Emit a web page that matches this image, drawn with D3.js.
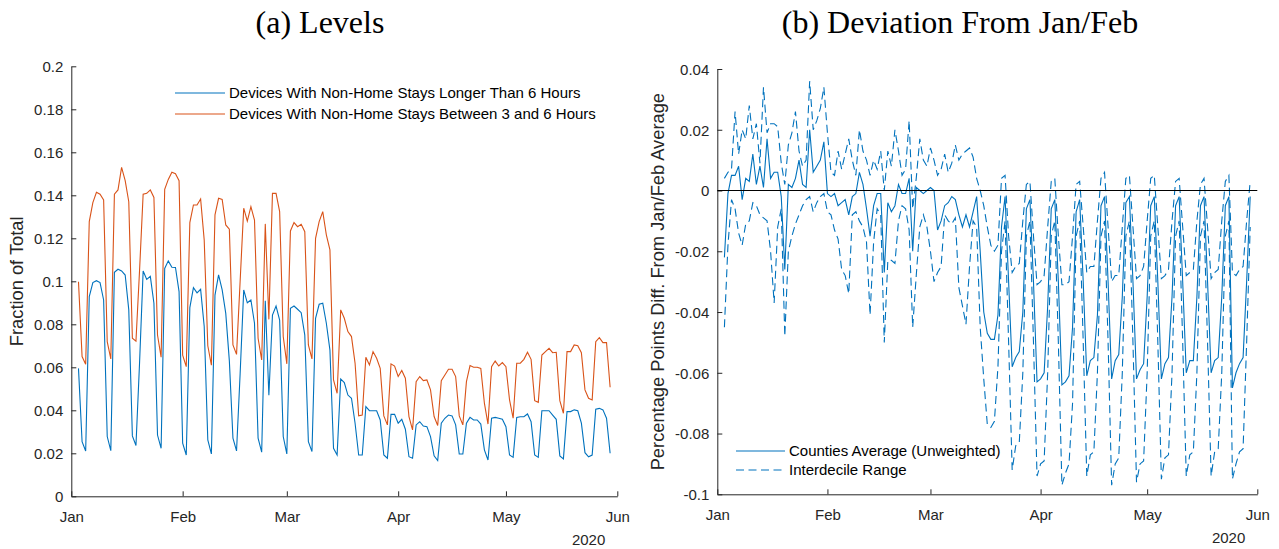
<!DOCTYPE html>
<html>
<head>
<meta charset="utf-8">
<script src="https://cdn.jsdelivr.net/npm/d3@7"></script>
<style>
  html, body { margin: 0; padding: 0; background: #fff; }
  svg { display: block; }
  .tick text { font-family: "Liberation Sans", Arial, Helvetica, sans-serif; font-size: 15px; fill: #262626; }
</style>
</head>
<body>
<svg id="chart" width="1279" height="549"></svg>
<script>
// ---------------- DATA ----------------
const firstDay = "2020-01-03";           // first observation (daily series)
const monthTicks = ["2020-01-01", "2020-02-01", "2020-03-01", "2020-04-01", "2020-05-01", "2020-06-01"];
const levelTicks = [0, 0.02, 0.04, 0.06, 0.08, 0.1, 0.12, 0.14, 0.16, 0.18, 0.2];
const devTicks = [-0.1, -0.08, -0.06, -0.04, -0.02, 0, 0.02, 0.04];
const seriesNamesA = ["Devices With Non-Home Stays Longer Than 6 Hours", "Devices With Non-Home Stays Between 3 and 6 Hours"];
const seriesNamesB = ["Counties Average (Unweighted)", "Interdecile Range"];

// (a) Levels – fraction of total devices
const longStays = [
  0.0595, 0.0254, 0.0211, 0.0929, 0.0994, 0.1003, 0.0994, 0.0913, 0.0278, 0.0212,
  0.1042, 0.1056, 0.1048, 0.1029, 0.0867, 0.0281, 0.0236, 0.0620, 0.1048, 0.1009,
  0.1023, 0.0898, 0.0285, 0.0223, 0.1060, 0.1095, 0.1065, 0.1064, 0.0952, 0.0247,
  0.0192, 0.0878, 0.0970, 0.0946, 0.0963, 0.0790, 0.0262, 0.0197, 0.0936, 0.1030,
  0.0960, 0.0851, 0.0630, 0.0270, 0.0211, 0.0570, 0.0960, 0.0900, 0.0913, 0.0805,
  0.0270, 0.0205, 0.0909, 0.0470, 0.0843, 0.0885, 0.0820, 0.0278, 0.0197, 0.0874,
  0.0885, 0.0870, 0.0854, 0.0750, 0.0254, 0.0208, 0.0828, 0.0893, 0.0898, 0.0805,
  0.0680, 0.0223, 0.0192, 0.0546, 0.0529, 0.0471, 0.0456, 0.0340, 0.0192, 0.0192,
  0.0417, 0.0398, 0.0398, 0.0398, 0.0355, 0.0192, 0.0177, 0.0381, 0.0381, 0.0340,
  0.0358, 0.0312, 0.0184, 0.0177, 0.0332, 0.0347, 0.0327, 0.0324, 0.0278, 0.0188,
  0.0166, 0.0340, 0.0363, 0.0378, 0.0374, 0.0332, 0.0197, 0.0197, 0.0340, 0.0367,
  0.0355, 0.0355, 0.0336, 0.0216, 0.0169, 0.0363, 0.0367, 0.0363, 0.0358, 0.0324,
  0.0192, 0.0181, 0.0367, 0.0370, 0.0370, 0.0383, 0.0347, 0.0192, 0.0181, 0.0398,
  0.0398, 0.0398, 0.0378, 0.0358, 0.0188, 0.0174, 0.0394, 0.0394, 0.0402, 0.0398,
  0.0340, 0.0203, 0.0184, 0.0192, 0.0405, 0.0409, 0.0402, 0.0363, 0.0200
];
const midStays = [
  0.0998, 0.0650, 0.0614, 0.1278, 0.1366, 0.1414, 0.1405, 0.1378, 0.0719, 0.0639,
  0.1405, 0.1425, 0.1530, 0.1468, 0.1370, 0.0735, 0.0722, 0.1050, 0.1405, 0.1409,
  0.1425, 0.1390, 0.0750, 0.0647, 0.1428, 0.1474, 0.1507, 0.1500, 0.1468, 0.0657,
  0.0603, 0.1273, 0.1355, 0.1355, 0.1383, 0.1192, 0.0700, 0.0610, 0.1309, 0.1386,
  0.1381, 0.1262, 0.1242, 0.0704, 0.0660, 0.1000, 0.1340, 0.1280, 0.1347, 0.1285,
  0.0735, 0.0634, 0.1267, 0.0823, 0.1409, 0.1409, 0.1324, 0.0743, 0.0616, 0.1234,
  0.1273, 0.1254, 0.1265, 0.1231, 0.0704, 0.0639, 0.1200, 0.1278, 0.1324, 0.1216,
  0.1146, 0.0541, 0.0479, 0.0867, 0.0828, 0.0766, 0.0743, 0.0619, 0.0374, 0.0378,
  0.0647, 0.0611, 0.0673, 0.0642, 0.0595, 0.0374, 0.0332, 0.0616, 0.0606, 0.0557,
  0.0585, 0.0549, 0.0371, 0.0309, 0.0533, 0.0557, 0.0538, 0.0541, 0.0495, 0.0371,
  0.0329, 0.0538, 0.0564, 0.0591, 0.0591, 0.0557, 0.0374, 0.0332, 0.0533, 0.0608,
  0.0600, 0.0600, 0.0595, 0.0433, 0.0336, 0.0603, 0.0629, 0.0606, 0.0622, 0.0603,
  0.0448, 0.0363, 0.0619, 0.0619, 0.0637, 0.0670, 0.0637, 0.0445, 0.0437, 0.0657,
  0.0673, 0.0688, 0.0668, 0.0670, 0.0445, 0.0386, 0.0673, 0.0673, 0.0704, 0.0700,
  0.0668, 0.0495, 0.0456, 0.0448, 0.0719, 0.0738, 0.0715, 0.0715, 0.0507
];

// (b) Deviation from Jan/Feb average
const devMean = [
  -0.022, -0.001, 0.005, 0.005, 0.008, -0.003, 0.004, 0.003, 0.012, 0.002,
  0.008, 0.001, 0.017, 0.004, 0.006, 0.006, -0.002, -0.026, 0.002, 0.001,
  0.004, 0.010, 0.002, 0.001, 0.020, 0.006, 0.008, 0.010, 0.016, -0.001,
  -0.002, -0.001, -0.005, -0.004, -0.003, -0.008, -0.002, -0.001, 0.006, 0.002,
  -0.006, -0.015, -0.005, -0.001, -0.001, -0.027, -0.004, -0.007, -0.005, 0.002,
  -0.001, -0.001, 0.004, -0.020, 0.001, 0.000, -0.001, 0.000, 0.001, 0.000,
  -0.013, -0.010, -0.005, -0.004, -0.002, -0.003, -0.008, -0.012, -0.008, -0.012,
  -0.007, -0.002, -0.020,
  -0.040, -0.047, -0.049, -0.049, -0.041, -0.012, -0.002,
  -0.030, -0.058, -0.055, -0.053, -0.040, -0.006, -0.003,
  -0.030, -0.063, -0.062, -0.060, -0.038, -0.006, -0.003,
  -0.030, -0.064, -0.063, -0.061, -0.045, -0.007, -0.003,
  -0.030, -0.061, -0.056, -0.055, -0.041, -0.005, -0.002,
  -0.030, -0.062, -0.056, -0.054, -0.035, -0.004, -0.002,
  -0.030, -0.062, -0.059, -0.057, -0.035, -0.005, -0.002,
  -0.030, -0.062, -0.057, -0.055, -0.035, -0.005, -0.002,
  -0.030, -0.060, -0.056, -0.056, -0.035, -0.005, -0.002,
  -0.030, -0.060, -0.056, -0.055, -0.035, -0.005, -0.002,
  -0.065, -0.060, -0.057, -0.055, -0.030, -0.002
];
const devP90 = [
  0.004, 0.006, 0.007, 0.026, 0.012, 0.020, 0.017, 0.028, 0.017, 0.022,
  0.009, 0.034, 0.019, 0.022, 0.022, 0.021, 0.009, 0.002, 0.015, 0.019,
  0.026, 0.013, 0.008, 0.010, 0.036, 0.020, 0.023, 0.027, 0.034, 0.019,
  0.006, 0.005, 0.013, 0.007, 0.012, 0.017, 0.010, 0.005, 0.020, 0.013,
  0.010, 0.005, 0.010, 0.007, 0.013, 0.000, 0.013, 0.008, 0.020, 0.013,
  0.005, 0.007, 0.023, -0.006, 0.004, 0.017, 0.010, 0.008, 0.014, 0.010,
  0.005, 0.007, 0.012, 0.006, 0.009, 0.015, 0.010, 0.012, 0.013, 0.014,
  0.011, 0.004, 0.000,
  -0.005, -0.012, -0.018, -0.020, -0.018, 0.004, 0.005,
  -0.015, -0.027, -0.025, -0.024, -0.010, 0.002, 0.003,
  -0.015, -0.031, -0.030, -0.028, -0.012, 0.003, 0.004,
  -0.015, -0.031, -0.031, -0.030, -0.015, 0.002, 0.003,
  -0.012, -0.027, -0.025, -0.025, -0.010, 0.004, 0.006,
  -0.012, -0.030, -0.028, -0.028, -0.012, 0.004, 0.005,
  -0.012, -0.029, -0.028, -0.025, -0.010, 0.004, 0.005,
  -0.012, -0.029, -0.028, -0.026, -0.010, 0.003, 0.004,
  -0.012, -0.028, -0.027, -0.026, -0.010, 0.002, 0.004,
  -0.012, -0.029, -0.027, -0.026, -0.010, 0.003, 0.005,
  -0.027, -0.028, -0.026, -0.025, -0.010, 0.003
];
const devP10 = [
  -0.045, -0.018, -0.003, -0.006, -0.014, -0.018, -0.011, -0.010, -0.004, -0.005,
  -0.008, -0.009, -0.010, -0.020, -0.037, -0.012, -0.006, -0.048, -0.020, -0.015,
  -0.011, -0.008, -0.005, -0.003, -0.002, -0.007, -0.004, -0.002, -0.001, -0.007,
  -0.008, -0.013, -0.016, -0.026, -0.028, -0.034, -0.008, -0.007, -0.010, -0.012,
  -0.017, -0.041, -0.017, -0.006, -0.008, -0.050, -0.023, -0.023, -0.024, -0.010,
  -0.005, -0.006, -0.013, -0.045, -0.028, -0.012, -0.008, -0.012, -0.020, -0.030,
  -0.027, -0.025, -0.008, -0.010, -0.011, -0.009, -0.032, -0.038, -0.044, -0.025,
  -0.010, -0.012, -0.045,
  -0.062, -0.077, -0.078, -0.076, -0.058, -0.020, -0.010,
  -0.050, -0.092, -0.084, -0.083, -0.060, -0.015, -0.010,
  -0.050, -0.094, -0.090, -0.089, -0.060, -0.015, -0.010,
  -0.050, -0.097, -0.093, -0.090, -0.070, -0.015, -0.010,
  -0.050, -0.094, -0.087, -0.086, -0.060, -0.015, -0.010,
  -0.050, -0.097, -0.090, -0.088, -0.060, -0.015, -0.010,
  -0.050, -0.096, -0.090, -0.089, -0.060, -0.015, -0.010,
  -0.050, -0.095, -0.088, -0.087, -0.060, -0.015, -0.010,
  -0.050, -0.094, -0.087, -0.086, -0.060, -0.015, -0.010,
  -0.050, -0.094, -0.086, -0.085, -0.060, -0.015, -0.010,
  -0.095, -0.090, -0.086, -0.085, -0.050, -0.012
];

// ---------------- DRAW ----------------
const parse = d3.timeParse("%Y-%m-%d");
const start = parse(firstDay);
const dates = longStays.map((_, i) => d3.timeDay.offset(start, i));
const monthDates = monthTicks.map(parse);

const svg = d3.select("#chart");
const FONT = '"Liberation Sans", Arial, Helvetica, sans-serif';
const AXC = "#262626";
const BLUE = "#0072BD", ORANGE = "#D95319";

function panel(cfg) {
  const x = d3.scaleTime().domain([monthDates[0], monthDates[monthDates.length - 1]]).range([cfg.x0, cfg.x1]);
  const y = d3.scaleLinear().domain(cfg.yDomain).range([cfg.yBot, cfg.yTop]);
  const g = svg.append("g");

  // axes (MATLAB style: inward ticks, box off)
  const xa = d3.axisBottom(x).tickValues(monthDates).tickFormat(d3.timeFormat("%b"))
    .tickSize(-5).tickSizeOuter(0).tickPadding(15);
  const ya = d3.axisLeft(y).tickValues(cfg.ticks).tickFormat(d => d3.format("~g")(d).replace("−", "-"))
    .tickSize(-5).tickSizeOuter(0).tickPadding(8);
  const gx = g.append("g").attr("transform", `translate(0,${cfg.yBot})`).call(xa);
  const gy = g.append("g").attr("transform", `translate(${cfg.x0},0)`).call(ya);
  [gx, gy].forEach(a => {
    a.select(".domain").attr("stroke", AXC).attr("stroke-width", 1);
    a.selectAll(".tick line").attr("stroke", AXC).attr("stroke-width", 1);
  });
  gy.selectAll(".tick text").attr("dy", "0.35em");

  g.append("text").attr("x", cfg.x1 - 12).attr("y", cfg.yBot + 49)
    .attr("text-anchor", "end").attr("font-family", FONT).attr("font-size", 15).attr("fill", AXC).text("2020");

  // title
  g.append("text").attr("x", cfg.titleX).attr("y", 33).attr("text-anchor", "middle")
    .attr("font-family", '"Liberation Serif", "Times New Roman", serif').attr("font-size", 32)
    .attr("fill", "#000").text(cfg.title);

  // y label
  g.append("text").attr("transform", `translate(${cfg.ylabX},${(cfg.yTop + cfg.yBot) / 2}) rotate(-90)`)
    .attr("text-anchor", "middle").attr("dy", "0.35em").attr("font-family", FONT).attr("font-size", 18.3)
    .attr("fill", AXC).text(cfg.ylab);

  return { g, x, y };
}

// Panel (a)
const A = panel({ x0: 71.3, x1: 617.3, yTop: 66.3, yBot: 496.3, yDomain: [0, 0.2], ticks: levelTicks,
  title: "(a) Levels", titleX: 320, ylab: "Fraction of Total", ylabX: 17 });
const lineA = d3.line().x((d, i) => A.x(dates[i])).y(d => A.y(d));
A.g.append("path").datum(longStays).attr("d", lineA).attr("fill", "none").attr("stroke", BLUE).attr("stroke-width", 1.1);
A.g.append("path").datum(midStays).attr("d", lineA).attr("fill", "none").attr("stroke", ORANGE).attr("stroke-width", 1.1);

// legend (a)
const legA = [{ c: BLUE, y: 93 }, { c: ORANGE, y: 114 }];
legA.forEach((l, i) => {
  A.g.append("line").attr("x1", 175).attr("x2", 225).attr("y1", l.y).attr("y2", l.y).attr("stroke", l.c).attr("stroke-width", 1.1);
  A.g.append("text").attr("x", 229).attr("y", l.y).attr("dy", "0.35em").attr("font-family", FONT)
    .attr("font-size", 15).attr("fill", "#000").text(seriesNamesA[i]);
});

// Panel (b)
const B = panel({ x0: 717.3, x1: 1257.3, yTop: 69, yBot: 494.3, yDomain: [-0.1, 0.04], ticks: devTicks,
  title: "(b) Deviation From Jan/Feb", titleX: 960, ylab: "Percentage Points Diff. From Jan/Feb Average", ylabX: 658 });
const lineB = d3.line().x((d, i) => B.x(dates[i])).y(d => B.y(d));
B.g.append("path").datum(devMean).attr("d", lineB).attr("fill", "none").attr("stroke", BLUE).attr("stroke-width", 1.1);
B.g.append("path").datum(devP90).attr("d", lineB).attr("fill", "none").attr("stroke", BLUE).attr("stroke-width", 1.1).attr("stroke-dasharray", "8,4.5");
B.g.append("path").datum(devP10).attr("d", lineB).attr("fill", "none").attr("stroke", BLUE).attr("stroke-width", 1.1).attr("stroke-dasharray", "8,4.5");
B.g.append("line").attr("x1", B.x(monthDates[0])).attr("x2", B.x(monthDates[5])).attr("y1", B.y(0)).attr("y2", B.y(0))
  .attr("stroke", "#000").attr("stroke-width", 1);

// legend (b)
const legB = [{ dash: null, y: 451 }, { dash: "8,4.5", y: 470 }];
legB.forEach((l, i) => {
  const ln = B.g.append("line").attr("x1", 736).attr("x2", 785).attr("y1", l.y).attr("y2", l.y).attr("stroke", BLUE).attr("stroke-width", 1.1);
  if (l.dash) ln.attr("stroke-dasharray", l.dash);
  B.g.append("text").attr("x", 789).attr("y", l.y).attr("dy", "0.35em").attr("font-family", FONT)
    .attr("font-size", 15).attr("fill", "#000").text(seriesNamesB[i]);
});
</script>
</body>
</html>
